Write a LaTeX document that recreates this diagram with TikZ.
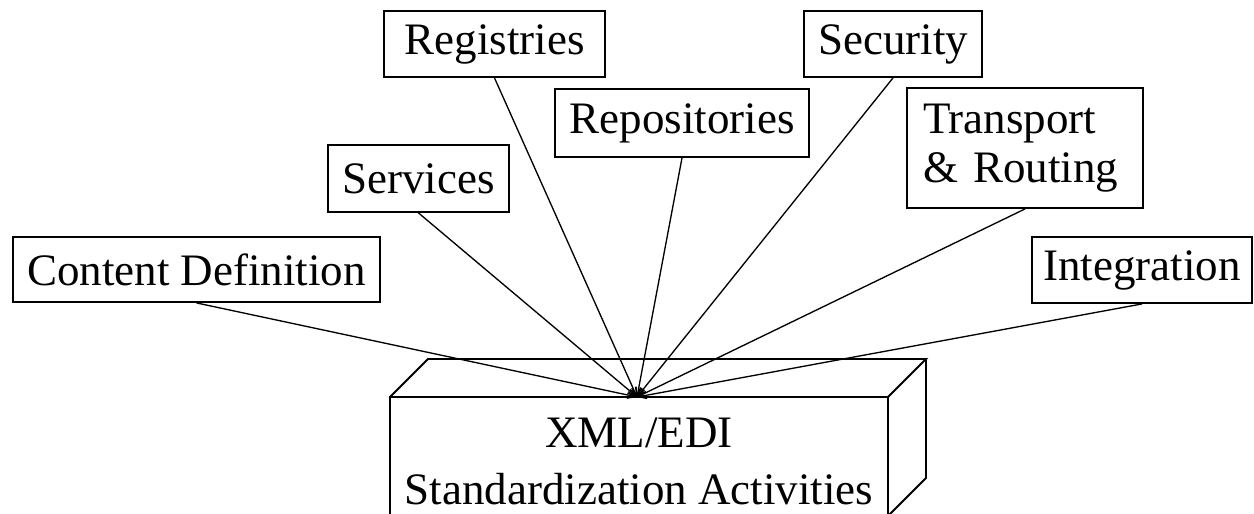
\documentclass[tikz,border=0pt]{standalone}
\usepackage{fontspec}
\setmainfont{Liberation Serif}
\usetikzlibrary{arrows.meta}
\begin{document}
\begin{tikzpicture}[x=0.75pt,y=-0.75pt,
  lbl/.style={draw,line width=1.4pt,inner sep=0pt,font=\fontsize{33.75}{38}\selectfont},
  conn/.style={line width=1pt,-{Straight Barb[length=6pt,width=5pt]}},
  solid3d/.style={line width=1.4pt,line join=miter},
  big/.style={inner sep=0pt,font=\fontsize{33.75}{38}\selectfont}]
\path[use as bounding box,fill=white] (0,0) rectangle (1254,514);
\begin{scope}
  \clip (0,0) rectangle (1254,514);
  \draw[solid3d] (390,397) rectangle (888,516);
  \draw[solid3d] (390,397) -- (428,359) -- (926,359) -- (888,397);
  \draw[solid3d] (926,359) -- (926,478) -- (888,516);
\end{scope}
\coordinate (hub) at (637,397);
\node[big,anchor=base] (xml1) at (639,447) {XML/EDI};
\node[big,anchor=base] (xml2) at (639,504) {Standardization Activities};

\node[lbl,minimum width=275.25pt,minimum height=48.75pt] (cont) at (196.5,269.5) {Content Definition};
\node[lbl,minimum width=135.75pt,minimum height=50.25pt] (serv) at (418.5,178.5) {Services};
\node[lbl,minimum width=165.75pt,minimum height=49.5pt] (reg) at (494.5,44) {Registries};
\node[lbl,minimum width=190.5pt,minimum height=51pt] (repo) at (682,123) {Repositories};
\node[lbl,minimum width=133.5pt,minimum height=49.5pt] (sec) at (893,44) {Security};
\node[lbl,minimum width=177pt,minimum height=90pt,text width=153pt,inner xsep=12pt,align=left,font=\fontsize{33.75}{37}\selectfont] (trans) at (1025,148) {Transport\\\& Routing};
\node[lbl,minimum width=165pt,minimum height=49.5pt] (integ) at (1142,270) {Integration};

\foreach \n in {cont,serv,reg,repo,sec,trans,integ}
  \draw[conn] (\n.south) -- (hub);
\end{tikzpicture}
\end{document}
